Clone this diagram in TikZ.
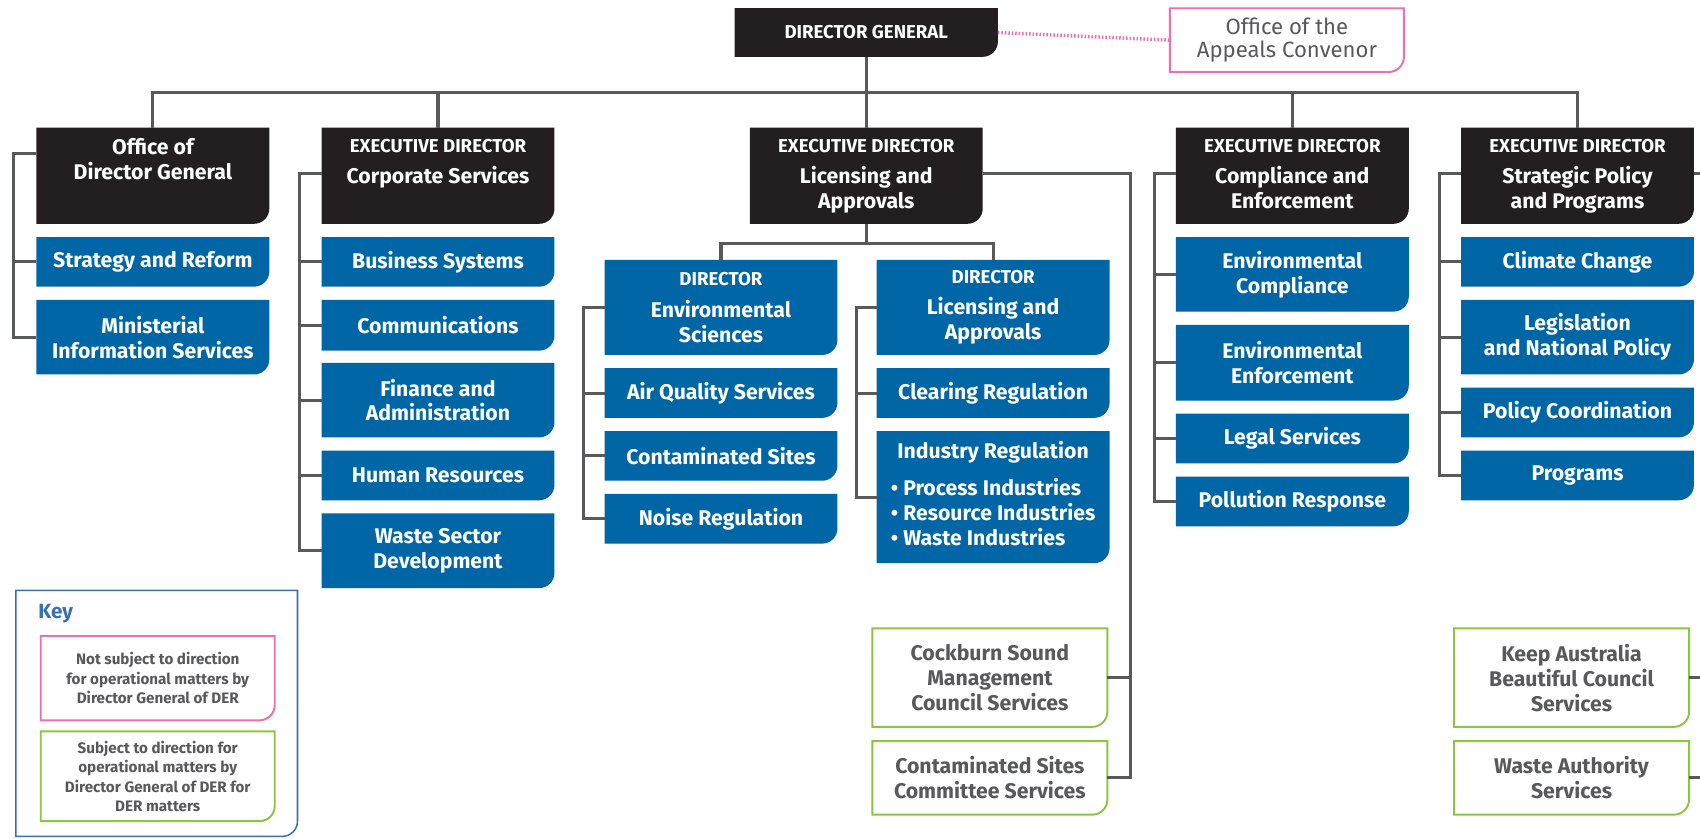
\documentclass[tikz,border=0pt]{standalone}
\usepackage{fontspec}
\setmainfont{Fira Sans}
\usetikzlibrary{backgrounds}
\definecolor{derblack}{HTML}{231F20}
\definecolor{derblue}{HTML}{0066A6}
\definecolor{derline}{HTML}{58595B}
\definecolor{dergrey}{HTML}{58595B}
\definecolor{derpink}{HTML}{EE6FAA}
\definecolor{dergreen}{HTML}{8CC63F}
\definecolor{keyblue}{HTML}{3A6FB0}
% box outline with one rounded corner
\newcommand{\cutbox}[1]{(#1.north west) -- (#1.north east) -- ([yshift=7pt]#1.south east) arc[start angle=0,end angle=-90,radius=7pt] -- (#1.south west) -- cycle}
\newcommand{\hdline}[1]{{\fontsize{8.6}{10}\selectfont #1}}
\begin{document}
\begin{tikzpicture}[x=0.5pt,y=0.5pt,
  conn/.style={draw=derline,line width=1.4pt},
  box node/.style={minimum width=107pt,inner sep=0pt,align=center,font=\bfseries\fontsize{9.8}{11.5}\selectfont},
  head node/.style={box node,minimum height=44pt},
  head text/.style={anchor=north,yshift=-5pt,inner sep=0pt,align=center,text=white,font=\bfseries\fontsize{9.8}{11.5}\selectfont},
  unit node/.style={box node,text=white},
  linked node/.style={box node,minimum width=108pt,text=dergrey},
  key node/.style={box node,minimum width=107.5pt,text=dergrey,font=\bfseries\fontsize{7}{9}\selectfont}]
\useasboundingbox (0,0) rectangle (1568,-773);
\clip (0,0) rectangle (1568,-773);

% top
\node[box node,minimum width=121pt,minimum height=22pt,text=white] (dg) at (799,-30) {\hdline{DIRECTOR GENERAL}};
\node[box node,minimum width=107.5pt,minimum height=29pt,text=dergrey,font=\fontsize{10.2}{11}\selectfont] (oac) at (1187,-37) {Office of the\\Appeals Convenor};

% executive directors
\node[head node,label={[head text]north:{Office of\\Director General}}] (odg) at (141,-162) {};
\node[head node,label={[head text]north:{\hdline{EXECUTIVE DIRECTOR}\\[3pt]Corporate Services}}] (cps) at (404,-162) {};
\node[head node,label={[head text]north:{\hdline{EXECUTIVE DIRECTOR}\\[3pt]Licensing and\\Approvals}}] (led) at (799,-162) {};
\node[head node,label={[head text]north:{\hdline{EXECUTIVE DIRECTOR}\\[3pt]Compliance and\\Enforcement}}] (ced) at (1192,-162) {};
\node[head node,label={[head text]north:{\hdline{EXECUTIVE DIRECTOR}\\[3pt]Strategic Policy\\and Programs}}] (spd) at (1455,-162) {};

% office of director general
\node[unit node,minimum height=22.5pt] (sr) at (141,-241.5) {Strategy and Reform};
\node[unit node,minimum height=34pt] (mis) at (141,-311) {Ministerial\\Information Services};

% corporate services
\node[unit node,minimum height=22.5pt] (bs) at (404,-241.5) {Business Systems};
\node[unit node,minimum height=23pt] (com) at (404,-300) {Communications};
\node[unit node,minimum height=34pt] (fa) at (404,-369) {Finance and\\Administration};
\node[unit node,minimum height=22.5pt] (hr) at (404,-438.5) {Human Resources};
\node[unit node,minimum height=34pt] (wsd) at (404,-508) {Waste Sector\\Development};

% licensing and approvals
\node[unit node,minimum height=43.5pt] (des) at (665,-283.5) {\hdline{DIRECTOR}\\[3pt]Environmental\\Sciences};
\node[unit node,minimum height=22.5pt] (aqs) at (665,-362.5) {Air Quality Services};
\node[unit node,minimum height=22.5pt] (cts) at (665,-420.5) {Contaminated Sites};
\node[unit node,minimum height=22.5pt] (nr) at (665,-478.5) {Noise Regulation};
\node[unit node,minimum height=43.5pt] (dla) at (916,-283.5) {\hdline{DIRECTOR}\\[3pt]Licensing and\\Approvals};
\node[unit node,minimum height=22.5pt] (clr) at (916,-362.5) {Clearing Regulation};
\node[unit node,minimum height=60.5pt] (ir) at (916,-458.5) {Industry Regulation\\[6pt]\begin{tabular}{@{}l@{}}\textbullet\ Process Industries\\\textbullet\ Resource Industries\\\textbullet\ Waste Industries\end{tabular}};

% compliance and enforcement
\node[unit node,minimum height=34pt] (ecm) at (1192,-253) {Environmental\\Compliance};
\node[unit node,minimum height=34.5pt] (een) at (1192,-334.5) {Environmental\\Enforcement};
\node[unit node,minimum height=22.5pt] (lgs) at (1192,-404.5) {Legal Services};
\node[unit node,minimum height=22.5pt] (plr) at (1192,-462.5) {Pollution Response};

% strategic policy and programs
\node[unit node,minimum height=22.5pt] (clc) at (1455,-241.5) {Climate Change};
\node[unit node,minimum height=34pt] (lnp) at (1455,-311) {Legislation\\and National Policy};
\node[unit node,minimum height=22.5pt] (pco) at (1455,-380.5) {Policy Coordination};
\node[unit node,minimum height=22.5pt] (prg) at (1455,-438.5) {Programs};

% services to other bodies
\node[linked node,minimum height=45pt] (cbs) at (913,-625) {Cockburn Sound\\Management\\Council Services};
\node[linked node,minimum height=33.5pt] (csc) at (913,-717.5) {Contaminated Sites\\Committee Services};
\node[linked node,minimum height=45pt] (kab) at (1449.5,-625) {Keep Australia\\Beautiful Council\\Services};
\node[linked node,minimum height=33.5pt] (wau) at (1449.5,-717.5) {Waste Authority\\Services};

% key
\node[box node,minimum width=129.5pt,minimum height=113pt] (key) at (144.5,-658) {};
\node[anchor=west,inner sep=0pt,text=keyblue,font=\bfseries\fontsize{9.5}{11}\selectfont] (keyttl) at (35,-566) {Key};
\node[key node,minimum height=38.5pt] (keyp) at (145.5,-625.5) {Not subject to direction\\for operational matters by\\Director General of DER};
\node[key node,minimum height=41pt] (keyg) at (145.5,-716) {Subject to direction for\\operational matters by\\Director General of DER for\\DER matters};

\begin{scope}[on background layer]
\fill[white] (0,0) rectangle (1568,-773);
\foreach \n in {dg,odg,cps,led,ced,spd} \fill[derblack] \cutbox{\n};
\foreach \n in {sr,mis,bs,com,fa,hr,wsd,des,aqs,cts,nr,dla,clr,ir,ecm,een,lgs,plr,clc,lnp,pco,prg} \fill[derblue] \cutbox{\n};
\draw[keyblue,line width=0.7pt] \cutbox{key};
\foreach \n in {oac,keyp} \filldraw[draw=derpink,fill=white,line width=0.9pt] \cutbox{\n};
\foreach \n in {cbs,csc,kab,wau,keyg} \filldraw[draw=dergreen,fill=white,line width=0.9pt] \cutbox{\n};
\end{scope}

% connectors
\draw[derpink,line width=1.6pt,dash pattern=on 0.7pt off 0.9pt] (dg.east) -- (oac.west);
\foreach \n in {odg,cps,led,ced,spd} \draw[conn] (dg.south) -- ++(0,-33) -| (\n.north);
\draw[conn] (odg.north west) ++(0,-24) -- ++(-21,0) |- (mis.west);
\draw[conn] (sr.west) -- ++(-21,0);
\draw[conn] (cps.north west) ++(0,-42) -- ++(-20,0) |- (wsd.west);
\foreach \n in {bs,com,fa,hr} \draw[conn] (\n.west) -- ++(-20,0);
\draw[conn] (led.south) -- ++(0,-18) -| (des.north);
\draw[conn] (led.south) -- ++(0,-18) -| (dla.north);
\draw[conn] (des.west) -- ++(-19,0) |- (nr.west);
\foreach \n in {aqs,cts} \draw[conn] (\n.west) -- ++(-19,0);
\draw[conn] (dla.west) -- ++(-19,0) |- (ir.west);
\draw[conn] (clr.west) -- ++(-19,0);
\draw[conn] (led.north east) ++(0,-42) -- ++(136,0) |- (csc.east);
\draw[conn] (cbs.east) -- ++(21,0);
\draw[conn] (ced.north west) ++(0,-42) -- ++(-20,0) |- (plr.west);
\foreach \n in {ecm,een,lgs} \draw[conn] (\n.west) -- ++(-20,0);
\draw[conn] (spd.north west) ++(0,-42) -- ++(-20,0) |- (prg.west);
\foreach \n in {clc,lnp,pco} \draw[conn] (\n.west) -- ++(-20,0);
\draw[conn] (spd.north east) ++(0,-42) -- ++(20,0);
\draw[conn] (kab.east) -- ++(20,0);
\draw[conn] (wau.east) -- ++(20,0);
\end{tikzpicture}
\end{document}
